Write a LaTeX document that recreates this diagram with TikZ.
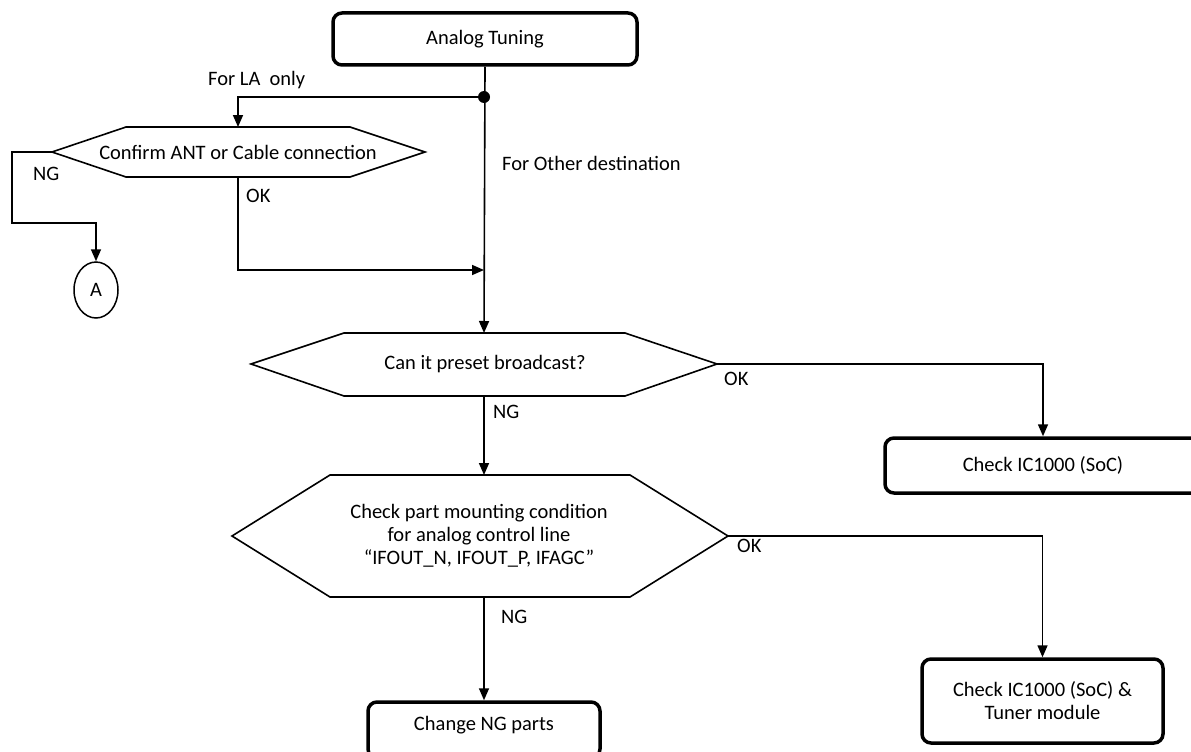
\documentclass[tikz,border=0pt]{standalone}
\usepackage{fontspec}
\setmainfont{Carlito}
\usetikzlibrary{arrows.meta,shapes.geometric}
\newcommand{\fsz}{\fontsize{20.5}{23}\selectfont}
\tikzset{
  conn/.style={line width=1.6pt},
  arr/.style={conn,-{Triangle[length=12pt,width=10pt]}},
  term/.style={draw,line width=3.5pt,rounded corners=9pt,align=center,inner sep=0pt,font=\fsz},
  hexline/.style={draw,line width=1.6pt,line join=miter},
  hextext/.style={align=center,inner sep=0pt,font=\fsz},
  lbl/.style={font=\fsz,inner sep=0pt,anchor=base west},
  conncirc/.style={draw,ellipse,line width=1.5pt,minimum width=44pt,minimum height=56pt,inner sep=0pt,font=\fsz}
}
\begin{document}
\begin{tikzpicture}[x=1pt,y=-1pt]
\useasboundingbox (0,0) rectangle (1191,752);
\fill[white] (0,0) rectangle (1191,752);

% terminal boxes
\node[term,minimum width=304pt,minimum height=52pt] (top) at (485,39) {Analog Tuning};
\node[term,minimum width=316pt,minimum height=55pt] (soc) at (1043,465.5) {Check IC1000 (SoC)};
\node[term,minimum width=241pt,minimum height=84pt] (tuner) at (1042.5,701) {Check IC1000 (SoC) \&\\Tuner module};
\node[term,minimum width=232pt,minimum height=56pt,text depth=14pt] (ngp) at (484,730) {Change NG parts};

% hexagon 1
\coordinate (h1L) at (52,152);
\coordinate (h1R) at (425,152);
\coordinate (h1T) at (238,127);
\coordinate (h1B) at (238,177);
\draw[hexline] (h1L) -- (126,127) -- (350,127) -- (h1R) -- (350,177) -- (126,177) -- cycle;
\node[hextext] (h1) at (238,152) {Confirm ANT or Cable connection};

% hexagon 2
\coordinate (h2L) at (251,364);
\coordinate (h2R) at (717,364);
\coordinate (h2T) at (484,333);
\coordinate (h2B) at (484,396);
\draw[hexline] (h2L) -- (344,333) -- (625,333) -- (h2R) -- (625,396) -- (344,396) -- cycle;
\node[hextext] (h2) at (485,364) {Can it preset broadcast?};

% hexagon 3
\coordinate (h3L) at (232,536);
\coordinate (h3R) at (728,536);
\coordinate (h3T) at (484,475);
\coordinate (h3B) at (484,597);
\draw[hexline] (h3L) -- (330,475) -- (630,475) -- (h3R) -- (630,597) -- (330,597) -- cycle;
\node[hextext] (h3) at (479,536) {Check part mounting condition\\for analog control line\\“IFOUT\_N, IFOUT\_P, IFAGC”};

% connector circle
\node[conncirc] (A) at (96,290) {A};

% junction
\coordinate (dot) at (484,97);
\coordinate (join) at (484,270);
\fill (dot) circle (6pt);

% connectors
\draw[arr] (top.south) -- (h2T);
\draw[arr] (dot) -- (238,97) -- (h1T);
\draw[arr] (h1L) -- (12,152) -- (12,223) -- (96,223) -- (A.north);
\draw[arr] (h1B) -- (238,270) -- (join);
\draw[arr] (h2B) -- (h3T);
\draw[arr] (h2R) -- (1043,364) -- (soc.north);
\draw[arr] (h3B) -- (ngp.north);
\draw[arr] (h3R) -- (1042.5,536) -- (tuner.north);

% labels
\node[lbl] (lLA) at (208,85) {For LA\ \ only};
\node[lbl] (lOther) at (502,170) {For Other destination};
\node[lbl] (lNG1) at (33,180) {NG};
\node[lbl] (lOK1) at (246,202) {OK};
\node[lbl] (lNG2) at (493,418) {NG};
\node[lbl] (lOK2) at (724,385) {OK};
\node[lbl] (lOK3) at (737,552) {OK};
\node[lbl] (lNG3) at (501,623) {NG};
\end{tikzpicture}
\end{document}
